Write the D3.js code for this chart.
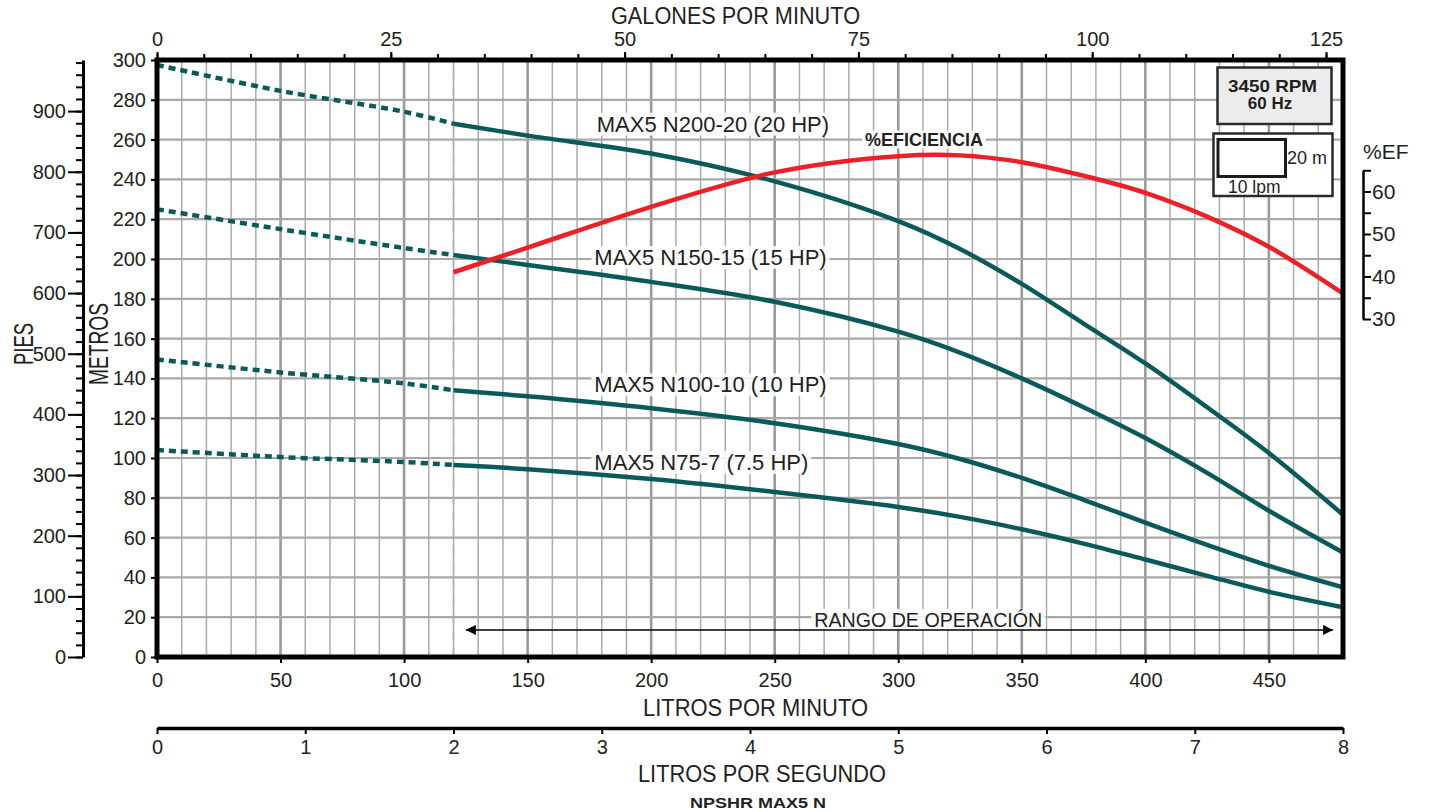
<!DOCTYPE html>
<html>
<head>
<meta charset="utf-8">
<script src="https://cdn.jsdelivr.net/npm/d3@7"></script>
<style>
    body { margin: 0; background: #fff; }
    svg text { font-family: "Liberation Sans", Arial, sans-serif; fill: #231f20; }
</style>
</head>
<body>
<div id="chart"></div>
<script>
// Flow values (litros por minuto) where the curves were read
const flowDashed = [0, 50, 100, 120];
const flowSolid = [120, 150, 200, 250, 300, 325, 350, 375, 400, 425, 450, 480];

// Head in metros for each pump model
const n200Dashed = [297.5, 284.5, 274, 268];
const n200Solid = [268, 262, 253, 239, 219, 205, 187.5, 167.5, 147.5, 125.5, 102.5, 71.5];
const n150Dashed = [225, 215, 205.5, 202];
const n150Solid = [202, 197, 188.5, 178.5, 163.5, 153, 140, 125.5, 110, 92.5, 73.5, 52.5];
const n100Dashed = [149.5, 143, 137.5, 134];
const n100Solid = [134, 131, 125, 117.5, 107, 99.5, 90, 79, 67.5, 56.3, 45.8, 35];
const n75Dashed = [104, 100.5, 98, 96.5];
const n75Solid = [96.5, 94.4, 89.4, 82.9, 75.4, 70.4, 64.2, 57, 49, 40.8, 32.8, 25];

// Efficiency curve (%EF), same flow points as the solid curves
const efficiency = [41, 46.8, 56.4, 64.5, 68.3, 68.5, 66.9, 63.7, 59.7, 54.1, 47, 36];

const modelNames = ["MAX5 N200-20 (20 HP)", "MAX5 N150-15 (15 HP)", "MAX5 N100-10 (10 HP)", "MAX5 N75-7 (7.5 HP)"];

// Tick values
const metrosTicks = [0, 20, 40, 60, 80, 100, 120, 140, 160, 180, 200, 220, 240, 260, 280, 300];
const piesTicks = [0, 100, 200, 300, 400, 500, 600, 700, 800, 900];
const lpmTicks = [0, 50, 100, 150, 200, 250, 300, 350, 400, 450];
const gpmTicks = [0, 25, 50, 75, 100, 125];
const lpsTicks = [0, 1, 2, 3, 4, 5, 6, 7, 8];
const efTicks = [30, 40, 50, 60];
const efMinorTicks = [35, 45, 55, 65];
const minFlow = 120;                 // start of the solid curves
const operatingRange = [125, 476];   // arrow "RANGO DE OPERACIÓN"

const teal = "#0b5a5a", red = "#ec2027", ink = "#231f20";

const svg = d3.select("#chart").append("svg")
    .attr("width", 1429)
    .attr("height", 812);

// Scales
const x = d3.scaleLinear().domain([0, 480]).range([157, 1343]);
const y = d3.scaleLinear().domain([0, 300]).range([657, 60]);
const xGpm = d3.scaleLinear().domain([0, 480 / 3.785]).range([157, 1343]);
const xLps = d3.scaleLinear().domain([0, 8]).range([157, 1343]);
const yPies = d3.scaleLinear().domain([0, 300 / 0.3048]).range([657, 60]);
const yEf = d3.scaleLinear().domain([30, 65]).range([319, 170.25]);

// Grid
const grid = svg.append("g");
grid.selectAll(".vgrid")
    .data(d3.range(10, 480, 10))
    .enter().append("line")
        .attr("x1", d => x(d)).attr("x2", d => x(d))
        .attr("y1", y(0)).attr("y2", y(300))
        .attr("stroke", d => d % 50 === 0 ? "#9a9a9a" : "#ababab")
        .attr("stroke-width", d => d % 50 === 0 ? 2.6 : 1.5);
grid.selectAll(".hgrid")
    .data(metrosTicks.slice(1, -1))
    .enter().append("line")
        .attr("x1", x(0)).attr("x2", x(480))
        .attr("y1", d => y(d)).attr("y2", d => y(d))
        .attr("stroke", "#a8a8a8")
        .attr("stroke-width", 2.2);

// Dashed line at the start of the operating curves
grid.append("line")
    .attr("x1", x(minFlow)).attr("x2", x(minFlow))
    .attr("y1", y(0)).attr("y2", y(300))
    .attr("stroke", "#b0b0b0")
    .attr("stroke-width", 1.6)
    .attr("stroke-dasharray", "9,8");

const bgLayer = svg.append("g");
const curveLayer = svg.append("g");
const textLayer = svg.append("g");

// Pump curves
const headLine = d3.line()
    .x(d => x(d[0]))
    .y(d => y(d[1]))
    .curve(d3.curveCatmullRom.alpha(0.5));

const dashedSets = [n200Dashed, n150Dashed, n100Dashed, n75Dashed];
const solidSets = [n200Solid, n150Solid, n100Solid, n75Solid];

dashedSets.forEach(values => {
    curveLayer.append("path")
        .datum(d3.zip(flowDashed, values))
        .attr("fill", "none")
        .attr("stroke", teal)
        .attr("stroke-width", 4.5)
        .attr("stroke-dasharray", "7,5")
        .attr("d", headLine);
});
solidSets.forEach(values => {
    curveLayer.append("path")
        .datum(d3.zip(flowSolid, values))
        .attr("fill", "none")
        .attr("stroke", teal)
        .attr("stroke-width", 4.5)
        .attr("d", headLine);
});

// Efficiency curve
const efLine = d3.line()
    .x(d => x(d[0]))
    .y(d => yEf(d[1]))
    .curve(d3.curveCatmullRom.alpha(0.5));
curveLayer.append("path")
    .datum(d3.zip(flowSolid, efficiency))
    .attr("fill", "none")
    .attr("stroke", red)
    .attr("stroke-width", 4.5)
    .attr("d", efLine);

// Operating range arrow
const defs = svg.append("defs");
defs.append("marker")
    .attr("id", "arrow")
    .attr("viewBox", "0 0 10 10")
    .attr("refX", 10).attr("refY", 5)
    .attr("markerWidth", 10).attr("markerHeight", 10)
    .attr("markerUnits", "userSpaceOnUse")
    .attr("orient", "auto-start-reverse")
    .append("path")
        .attr("d", "M0,0 L10,5 L0,10 Z")
        .attr("fill", "#000");
curveLayer.append("line")
    .attr("x1", x(operatingRange[0])).attr("x2", x(operatingRange[1]))
    .attr("y1", y(13.6)).attr("y2", y(13.6))
    .attr("stroke", "#000")
    .attr("stroke-width", 1.4)
    .attr("marker-start", "url(#arrow)")
    .attr("marker-end", "url(#arrow)");

// Curve labels with light background
const labelSpots = [
    { text: modelNames[0], lpm: 178, m: 264 },
    { text: modelNames[1], lpm: 177, m: 197 },
    { text: modelNames[2], lpm: 177, m: 133 },
    { text: modelNames[3], lpm: 177, m: 94 }
];
labelSpots.forEach(l => {
    textLayer.append("text")
        .attr("x", x(l.lpm)).attr("y", y(l.m))
        .style("font-size", "22px")
        .text(l.text);
});
textLayer.append("text")
    .attr("x", x(286.5)).attr("y", y(257))
    .style("font-size", "18px")
    .style("font-weight", "bold")
    .attr("textLength", 118)
    .attr("lengthAdjust", "spacingAndGlyphs")
    .text("%EFICIENCIA");
textLayer.append("text")
    .attr("x", x(266)).attr("y", y(15.2))
    .style("font-size", "21px")
    .attr("textLength", 228)
    .attr("lengthAdjust", "spacingAndGlyphs")
    .text("RANGO DE OPERACIÓN");

textLayer.selectAll("text").each(function() {
    const b = this.getBBox();
    bgLayer.append("rect")
        .attr("x", b.x - 3).attr("y", b.y + 1)
        .attr("width", b.width + 6).attr("height", b.height - 2)
        .attr("fill", "#fff")
        .attr("opacity", 0.85);
});

// Legend boxes (top right)
const legend = svg.append("g");
legend.append("rect")
    .attr("x", 1217.5).attr("y", 67.5).attr("width", 114).attr("height", 56.5)
    .attr("fill", "#ececec").attr("stroke", "#2a2a2a").attr("stroke-width", 2.5);
legend.append("text")
    .attr("x", 1272.5).attr("y", 91.5)
    .attr("text-anchor", "middle")
    .style("font-size", "17px").style("font-weight", "bold")
    .attr("textLength", 89).attr("lengthAdjust", "spacingAndGlyphs")
    .text("3450 RPM");
legend.append("text")
    .attr("x", 1270).attr("y", 108.5)
    .attr("text-anchor", "middle")
    .style("font-size", "17px").style("font-weight", "bold")
    .text("60 Hz");
legend.append("rect")
    .attr("x", 1213.5).attr("y", 133.5).attr("width", 119).attr("height", 62.5)
    .attr("fill", "#fff").attr("stroke", "#2a2a2a").attr("stroke-width", 2.5);
legend.append("rect")
    .attr("x", 1218).attr("y", 139.5).attr("width", 67.5).attr("height", 37)
    .attr("fill", "#fff").attr("stroke", "#1a1a1a").attr("stroke-width", 3);
legend.append("text")
    .attr("x", 1287).attr("y", 163.5)
    .style("font-size", "18px")
    .text("20 m");
legend.append("text")
    .attr("x", 1228).attr("y", 192.5)
    .style("font-size", "17.5px")
    .text("10 lpm");

// Plot frame
svg.append("rect")
    .attr("x", x(0)).attr("y", y(300))
    .attr("width", x(480) - x(0)).attr("height", y(0) - y(300))
    .attr("fill", "none")
    .attr("stroke", "#000")
    .attr("stroke-width", 5);

function styleAxis(g, fontSize, strokeWidth) {
    g.selectAll("path.domain").attr("stroke", "#000").attr("stroke-width", strokeWidth);
    g.selectAll(".tick line").attr("stroke", "#000").attr("stroke-width", 2);
    g.selectAll("text").style("font-size", fontSize).style("font-family", "'Liberation Sans', Arial, sans-serif").attr("fill", ink);
}

// Metros (left)
svg.append("g")
    .attr("transform", `translate(${x(0)},0)`)
    .call(d3.axisLeft(y).tickValues(metrosTicks).tickSize(6).tickPadding(5).tickSizeOuter(0))
    .call(g => g.select(".domain").remove())
    .call(g => styleAxis(g, "20px", 0));

// Pies (far left)
svg.append("g")
    .attr("transform", "translate(83,0)")
    .call(d3.axisLeft(yPies).tickValues(d3.range(0, 981, 20)).tickSize(7).tickFormat("").tickSizeOuter(0))
    .call(g => styleAxis(g, "20px", 3));
svg.append("g")
    .attr("transform", "translate(83,0)")
    .call(d3.axisLeft(yPies).tickValues(piesTicks).tickSize(15).tickPadding(2).tickSizeOuter(0))
    .call(g => g.select(".domain").remove())
    .call(g => styleAxis(g, "20px", 0));

// Litros por minuto (bottom)
svg.append("g")
    .attr("transform", `translate(0,${y(0)})`)
    .call(d3.axisBottom(x).tickValues(lpmTicks).tickSize(6).tickPadding(10).tickSizeOuter(0))
    .call(g => g.select(".domain").remove())
    .call(g => styleAxis(g, "20px", 0));

// Galones por minuto (top)
svg.append("g")
    .attr("transform", "translate(0,58)")
    .call(d3.axisTop(xGpm).tickValues(d3.range(0, 126, 5)).tickSize(4).tickFormat("").tickSizeOuter(0))
    .call(g => g.select(".domain").remove())
    .call(g => styleAxis(g, "20px", 0));
svg.append("g")
    .attr("transform", "translate(0,58)")
    .call(d3.axisTop(xGpm).tickValues(gpmTicks).tickSize(6).tickPadding(6).tickSizeOuter(0))
    .call(g => g.select(".domain").remove())
    .call(g => styleAxis(g, "20px", 0));

// Litros por segundo (second bottom axis)
svg.append("g")
    .attr("transform", "translate(0,728)")
    .call(d3.axisBottom(xLps).tickValues(lpsTicks).tickSize(6).tickPadding(6).tickSizeOuter(0))
    .call(g => styleAxis(g, "20px", 3.5));

// %EF (right)
svg.append("g")
    .attr("transform", "translate(1363,0)")
    .call(d3.axisRight(yEf).tickValues(efMinorTicks).tickSize(8).tickFormat("").tickSizeOuter(0))
    .call(g => styleAxis(g, "21px", 2.5));
svg.append("g")
    .attr("transform", "translate(1363,0)")
    .call(d3.axisRight(yEf).tickValues(efTicks).tickSize(8).tickPadding(1).tickSizeOuter(0))
    .call(g => g.select(".domain").remove())
    .call(g => styleAxis(g, "21px", 0));

// Axis titles
svg.append("text")
    .attr("x", 735.5).attr("y", 24)
    .attr("text-anchor", "middle")
    .style("font-size", "23px")
    .attr("textLength", 249).attr("lengthAdjust", "spacingAndGlyphs")
    .text("GALONES POR MINUTO");
svg.append("text")
    .attr("x", 755.5).attr("y", 716)
    .attr("text-anchor", "middle")
    .style("font-size", "23px")
    .attr("textLength", 225).attr("lengthAdjust", "spacingAndGlyphs")
    .text("LITROS POR MINUTO");
svg.append("text")
    .attr("x", 762).attr("y", 782)
    .attr("text-anchor", "middle")
    .style("font-size", "23px")
    .attr("textLength", 248).attr("lengthAdjust", "spacingAndGlyphs")
    .text("LITROS POR SEGUNDO");
svg.append("text")
    .attr("x", 758).attr("y", 808)
    .attr("text-anchor", "middle")
    .style("font-size", "15px").style("font-weight", "bold")
    .attr("textLength", 136).attr("lengthAdjust", "spacingAndGlyphs")
    .text("NPSHR MAX5 N");
svg.append("text")
    .attr("x", 1363).attr("y", 158.5)
    .style("font-size", "21px")
    .text("%EF");
svg.append("text")
    .attr("transform", "translate(33,344) rotate(-90)")
    .attr("text-anchor", "middle")
    .style("font-size", "27px")
    .attr("textLength", 42).attr("lengthAdjust", "spacingAndGlyphs")
    .text("PIES");
svg.append("text")
    .attr("transform", "translate(108,344) rotate(-90)")
    .attr("text-anchor", "middle")
    .style("font-size", "27px")
    .attr("textLength", 82).attr("lengthAdjust", "spacingAndGlyphs")
    .text("METROS");
</script>
</body>
</html>
